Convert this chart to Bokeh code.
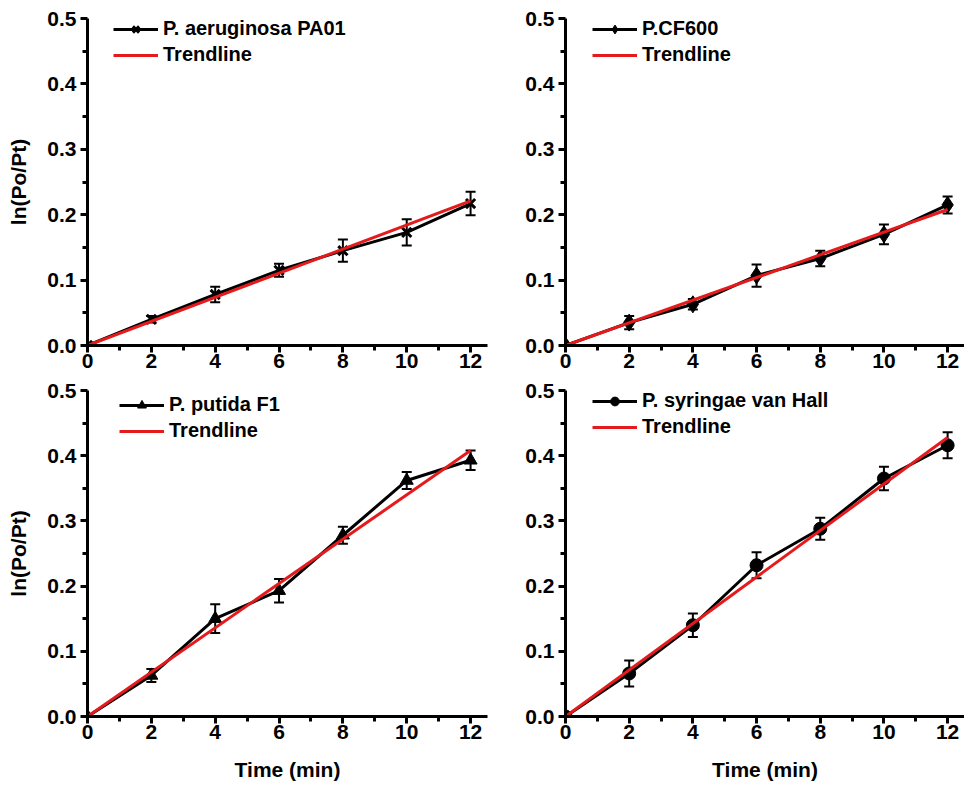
from bokeh.plotting import figure
from bokeh.layouts import column, row
from bokeh.models import (ColumnDataSource, FixedTicker, Range1d, Whisker, TeeHead,
                          Legend, LegendItem)
from bokeh.embed import file_html
from bokeh.resources import INLINE

time = [0, 2, 4, 6, 8, 10, 12]

pa01 = [0.0, 0.040, 0.078, 0.115, 0.145, 0.173, 0.217]
pa01_err = [0.0, 0.005, 0.012, 0.010, 0.017, 0.020, 0.018]
pa01_trend = [0.0, 0.221]

cf600 = [0.0, 0.035, 0.063, 0.107, 0.133, 0.170, 0.215]
cf600_err = [0.0, 0.010, 0.008, 0.017, 0.012, 0.015, 0.013]
cf600_trend = [0.0, 0.208]

putida = [0.0, 0.063, 0.150, 0.193, 0.278, 0.362, 0.393]
putida_err = [0.0, 0.010, 0.022, 0.018, 0.013, 0.013, 0.015]
putida_trend = [0.0, 0.408]

syringae = [0.0, 0.066, 0.140, 0.232, 0.288, 0.365, 0.416]
syringae_err = [0.0, 0.020, 0.018, 0.020, 0.017, 0.018, 0.020]
syringae_trend = [0.0, 0.428]

trend_x = [0, 12]

x_ticks = [0, 2, 4, 6, 8, 10, 12]
x_minor = [1, 3, 5, 7, 9, 11]
y_ticks = [0.0, 0.1, 0.2, 0.3, 0.4, 0.5]
y_minor = [0.05, 0.15, 0.25, 0.35, 0.45]
y_labels = {0.0: "0.0", 0.1: "0.1", 0.2: "0.2", 0.3: "0.3", 0.4: "0.4", 0.5: "0.5"}

FONT = "Liberation Sans"


def panel(y, err, trend, name, marker, msize, left, bottom, bl, bt, br, bb, fw, fh, leg_xy):
    p = figure(width=bl + fw + br, height=bt + fh + bb, output_backend="svg",
               toolbar_location=None, x_range=Range1d(0, 12.53), y_range=Range1d(0, 0.5),
               min_border_left=bl, min_border_right=br, min_border_top=bt, min_border_bottom=bb)
    p.outline_line_color = None
    p.grid.visible = False
    p.background_fill_color = "white"
    for ax in (p.xaxis[0], p.yaxis[0]):
        ax.axis_line_width = 3
        ax.axis_line_color = "black"
        ax.major_tick_line_color = "black"
        ax.minor_tick_line_color = "black"
        ax.major_tick_line_width = 3
        ax.minor_tick_line_width = 3
        ax.major_tick_out = 7
        ax.major_tick_in = 0
        ax.minor_tick_out = 5
        ax.minor_tick_in = 0
        ax.major_label_text_font = FONT
        ax.major_label_text_font_style = "bold"
        ax.major_label_text_font_size = "21px"
        ax.major_label_text_color = "black"
        ax.axis_label_text_font = FONT
        ax.axis_label_text_font_style = "bold"
        ax.axis_label_text_font_size = "21px"
        ax.axis_label_text_color = "black"
    p.xaxis[0].ticker = FixedTicker(ticks=x_ticks, minor_ticks=x_minor)
    p.yaxis[0].ticker = FixedTicker(ticks=y_ticks, minor_ticks=y_minor)
    p.yaxis[0].major_label_overrides = y_labels
    p.xaxis[0].major_label_standoff = 1
    p.yaxis[0].major_label_standoff = 4
    if left:
        p.yaxis[0].axis_label = "ln(Po/Pt)"
        p.yaxis[0].axis_label_standoff = 14
    if bottom:
        p.xaxis[0].axis_label = "Time (min)"
        p.xaxis[0].axis_label_standoff = 16

    src = ColumnDataSource(dict(x=time, y=y,
                                lo=[a - b for a, b in zip(y, err)],
                                hi=[a + b for a, b in zip(y, err)]))
    wh = Whisker(source=src, base="x", lower="lo", upper="hi", line_width=2, line_color="black",
                 upper_head=TeeHead(size=10, line_width=2, line_color="black"),
                 lower_head=TeeHead(size=10, line_width=2, line_color="black"))
    p.add_layout(wh)
    ln = p.line("x", "y", source=src, line_width=3, line_color="black")
    if marker == "x":
        sc = p.scatter("x", "y", source=src, marker="x", size=msize, line_width=3, line_color="black")
    else:
        sc = p.scatter("x", "y", source=src, marker=marker, size=msize, fill_color="black",
                       line_color="black")
    tsrc = ColumnDataSource(dict(x=trend_x, y=trend))
    tr = p.line("x", "y", source=tsrc, line_width=3, line_color="#e41a1c")

    leg = Legend(items=[LegendItem(label=name, renderers=[ln, sc]),
                        LegendItem(label="Trendline", renderers=[tr])],
                 location=leg_xy, border_line_color=None, background_fill_alpha=0,
                 padding=0, spacing=3, margin=0, glyph_width=45, glyph_height=22,
                 label_height=22, label_standoff=5,
                 label_text_font=FONT, label_text_font_style="bold",
                 label_text_font_size="20px", label_text_color="black")
    p.add_layout(leg)
    return p


FH_T = 327
FH_B = 328
LH = 47
p1 = panel(pa01, pa01_err, pa01_trend, "P. aeruginosa PA01", "x", 13, True, False,
           87, 18, 8, 34, 400, FH_T, (26, FH_T - 1 - LH))
p2 = panel(cf600, cf600_err, cf600_trend, "P.CF600", "diamond", 17, False, False,
           70, 18, 0, 34, 399, FH_T, (27, FH_T - 1 - LH))
p3 = panel(putida, putida_err, putida_trend, "P. putida F1", "triangle", 13, True, True,
           87, 11, 8, 65, 400, FH_B, (32, FH_B - 7 - LH))
p4 = panel(syringae, syringae_err, syringae_trend, "P. syringae van Hall", "circle", 13, False, True,
           70, 11, 0, 65, 399, FH_B, (27, FH_B - 3 - LH))

layout = column(row(p1, p2), row(p3, p4))
open("out.html", "w").write(file_html(layout, INLINE))
